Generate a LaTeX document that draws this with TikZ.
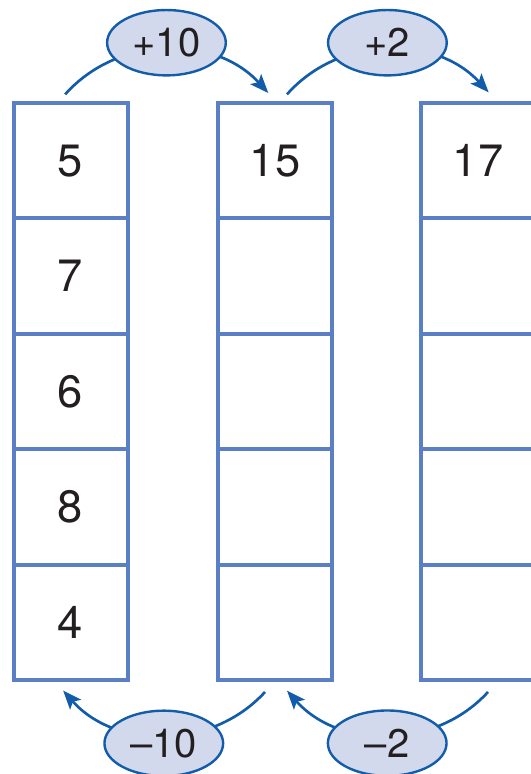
\documentclass[tikz,border=0pt]{standalone}
\usepackage{fontspec}
\setmainfont{TeX Gyre Heros}
\usetikzlibrary{shapes.geometric,arrows.meta}
\definecolor{cellblue}{RGB}{90,127,196}
\definecolor{linkblue}{RGB}{18,92,170}
\definecolor{ovalfill}{RGB}{211,217,237}
\definecolor{digit}{RGB}{35,31,32}

\begin{document}
\begin{tikzpicture}[x=0.75pt,y=0.75pt,
    cell/.style={draw=cellblue, line width=3pt, minimum width=85.5pt,
        minimum height=86.5pt, inner sep=0pt, text=digit,
        font=\fontsize{34}{40}\selectfont},
    oval/.style={ellipse, draw=linkblue, fill=ovalfill, line width=1.8pt,
        minimum width=89pt, minimum height=49pt, inner sep=0pt, text=digit,
        font=\fontsize{30}{36}\selectfont},
    link/.style={linkblue, line width=2pt, -{Stealth[length=14pt,width=11pt,inset=3pt]}}]

    \useasboundingbox (0,0) rectangle (531,-774);
    \clip (0,0) rectangle (531,-774);

    % Left column (given numbers)
    \foreach \row/\val in {1/5,2/7,3/6,4/8,5/4}
        \node[cell] (A\row) at (70.5,{-160.7-115.4*(\row-1)}) {\val};

    % Middle column
    \foreach \row/\val in {1/15,2/{},3/{},4/{},5/{}}
        \node[cell] (B\row) at (275,{-160.7-115.4*(\row-1)}) {\val};

    % Right column (cut by the border)
    \foreach \row/\val in {1/17,2/{},3/{},4/{},5/{}}
        \node[cell] (C\row) at (478,{-160.7-115.4*(\row-1)}) {\val};

    % Ends of the arcs
    \coordinate (sA) at ([shift={(-4pt,5pt)}]A1.north);
    \coordinate (tB) at ([shift={(-5pt,6pt)}]B1.north);
    \coordinate (sB) at ([shift={(9pt,5pt)}]B1.north);
    \coordinate (tC) at ([shift={(8pt,6.5pt)}]C1.north);
    \coordinate (uB) at ([shift={(-7.5pt,-7.5pt)}]B5.south);
    \coordinate (vA) at ([shift={(-5.5pt,-6.5pt)}]A5.south);
    \coordinate (uC) at ([shift={(7.5pt,-7.5pt)}]C5.south);
    \coordinate (vB) at ([shift={(9pt,-6.5pt)}]B5.south);

    % Top arcs: adding
    \draw[link] (sA) to[bend left=48] node[oval, yshift=5pt] (plusten) {+10} (tB);
    \draw[link] (sB) to[bend left=48] node[oval, yshift=5pt] (plustwo) {+2} (tC);

    % Bottom arcs: taking away
    \draw[link] (uB) to[bend left=48] node[oval, yshift=-6pt] (minusten) {–10} (vA);
    \draw[link] (uC) to[bend left=48] node[oval, yshift=-6pt] (minustwo) {–2} (vB);

\end{tikzpicture}
\end{document}
